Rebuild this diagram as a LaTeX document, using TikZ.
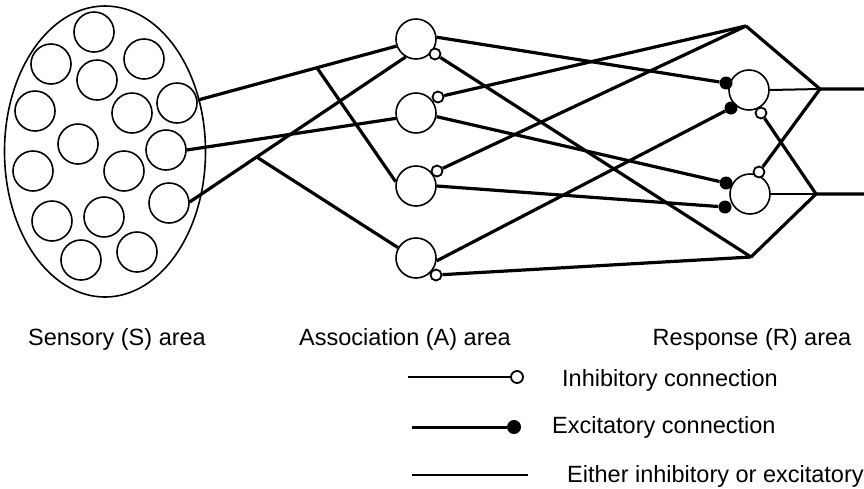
\documentclass[tikz,border=0pt]{standalone}
\usepackage{fontspec}
\setmainfont{Liberation Sans}
\usetikzlibrary{calc, math}

\tikzset{
  cell/.style={circle, draw, line width=1.6, minimum size=40, inner sep=0},
  inh/.style={circle, draw, fill=white, line width=1.8, minimum size=11, inner sep=0},
  exc/.style={circle, fill=black, minimum size=13, inner sep=0},
  wire/.style={line width=3.2},
  thinwire/.style={line width=2},
  lbl/.style={anchor=base, inner sep=0, font=\fontsize{23.5}{28}\selectfont},
}

\begin{document}
\begin{tikzpicture}[x=1pt, y=-1pt]

\tikzmath{
\fa = 0.6;%branch on upper S line
\fb = 0.31;%branch on lower S line
}

\useasboundingbox (0,0) rectangle (864,488);

%sensory area:
\draw[line width=1.6] (105,151.5) ellipse [x radius=100.5pt, y radius=145.5pt];
\foreach \n/\x/\y in {1/94/32, 2/51/64, 3/144/59, 4/97/80, 5/35/111, 6/132/113,
  7/177/103, 8/78/144, 9/166/150, 10/33/171, 11/124/171, 12/169/203,
  13/52/221, 14/104/217, 15/81/260, 16/137/252}{
 \node[cell] (s\n) at (\x,\y) {};
 }

%association area:
\node[cell] (a1) at (416,39) {};
\node[cell] (a2) at (416,113) {};
\node[cell] (a3) at (416,186) {};
\node[cell] (a4) at (416,258) {};
\node[inh] (i1) at (435,54) {};
\node[inh] (i2) at (438,97) {};
\node[inh] (i3) at (437,171) {};
\node[inh] (i4) at (436,275) {};

%response area:
\node[cell] (r1) at (749,90) {};
\node[cell] (r2) at (750,194) {};
\node[exc] (e1) at (726,83) {};
\node[exc] (e2) at (731,108) {};
\node[exc] (e3) at (726,183) {};
\node[exc] (e4) at (725,207) {};
\node[inh] (i5) at (761,113) {};
\node[inh] (i6) at (759,172) {};

\coordinate (top) at (746,26);
\coordinate (bot) at (751,257);
\coordinate (j1) at (820,89);
\coordinate (j2) at (816,194);
\coordinate (o1) at (864,89);
\coordinate (o2) at (864,194);

%S to A:
\draw[wire] (s7.8) -- (a1.200);
\draw[wire] (s9.east) -- (a2.195);
\draw[wire] (s12.3) -- (a1.240);
\coordinate (br1) at ($(s7.8)!\fa!(a1.200)$);
\coordinate (br3) at ($(s12.3)!\fb!(a1.240)$);
\draw[wire] (br1) -- (a3.168);
\draw[wire] (br3) -- (a4.150);

%A to R:
\draw[wire] (a1.5) -- (e1);
\draw[wire] (i1) -- (bot);
\draw[wire] (i2) -- (top);
\draw[wire] (a2.-10) -- (e3);
\draw[wire] (i3) -- (top);
\draw[wire] (a3.east) -- (e4);
\draw[wire] (a4.-8) -- (e2);
\draw[wire] (i4) -- (bot);

%R outputs:
\draw[wire] (top) -- (j1) -- (o1);
\draw[wire] (bot) -- (j2) -- (o2);
\draw[thinwire] (r1.east) -- (j1);
\draw[thinwire] (r2.east) -- (j2);
\draw[wire] (i5) -- (j2);
\draw[wire] (i6) -- (j1);

%labels:
\node[lbl] (ls) at (117,345) {Sensory (S) area};
\node[lbl] (la) at (405,345) {Association (A) area};
\node[lbl] (lr) at (752,345) {Response (R) area};

%legend:
\coordinate (k1) at (408,377);
\node[inh, minimum size=12] (k1e) at (517,377) {};
\draw[line width=2.2] (k1) -- (k1e);
\node[lbl, anchor=base west] (k1t) at (562,386) {Inhibitory connection};

\coordinate (k2) at (412,427);
\node[exc, minimum size=14] (k2e) at (514,427) {};
\draw[line width=3] (k2) -- (k2e);
\node[lbl, anchor=base west] (k2t) at (552,433) {Excitatory connection};

\coordinate (k3) at (412,475);
\coordinate (k3e) at (528,475);
\draw[line width=1.8] (k3) -- (k3e);
\node[lbl, anchor=base west] (k3t) at (567,482) {Either inhibitory or excitatory};

\end{tikzpicture}
\end{document}
